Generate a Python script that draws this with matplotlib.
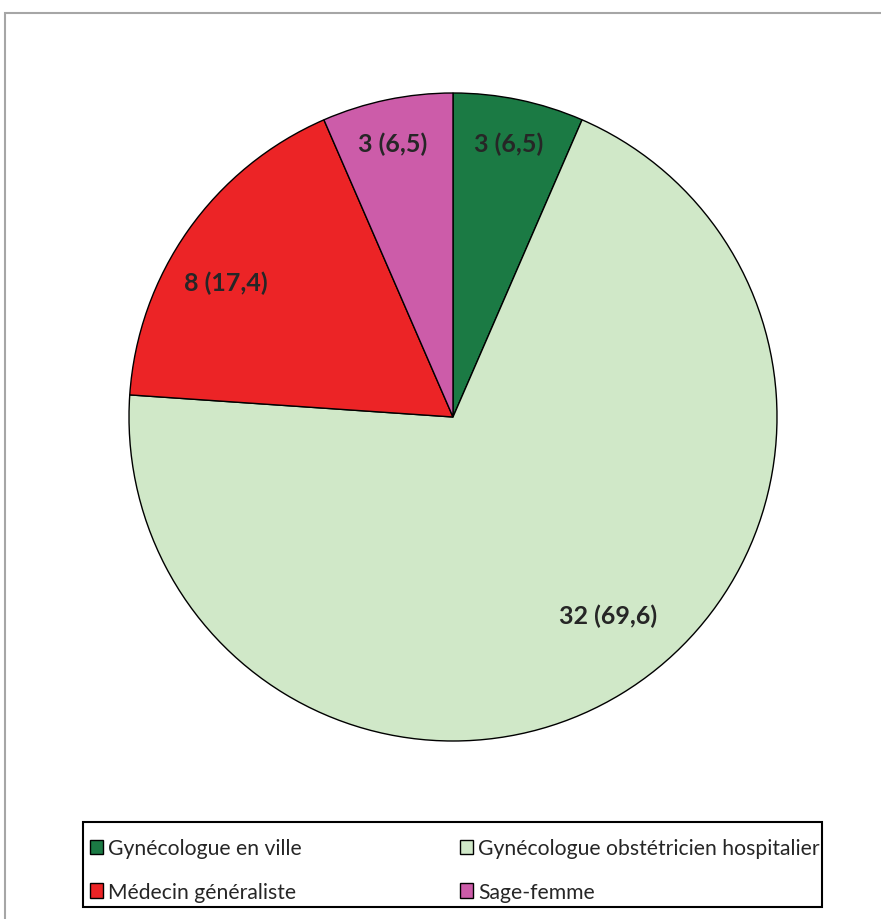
import numpy as np
import matplotlib
matplotlib.use("Agg")
import matplotlib.pyplot as plt
from matplotlib.patches import Rectangle

categories = ["Gynécologue en ville", "Gynécologue obstétricien hospitalier",
              "Médecin généraliste", "Sage-femme"]
counts = [3, 32, 8, 3]
percents = ["6,5", "69,6", "17,4", "6,5"]
colors = ["#1b7a44", "#d0e8c8", "#ec2426", "#cc5ca9"]

# label placement style: (radius fraction, angle offset in degrees)
label_style = [(0.862, 0.3), (0.776, 6.8), (0.814, 4.6), (0.866, 0.7)]

plt.rcParams['font.family'] = ['Lato', 'DejaVu Sans']

W, H = 881, 920
fig = plt.figure(figsize=(W / 100, H / 100), dpi=100)

# outer gray frame
fig.patches.append(Rectangle((5 / W, -0.05), 1.0, (H - 14) / H + 0.05,
                             transform=fig.transFigure, fill=False,
                             edgecolor="#a6a6a6", linewidth=1.5))

cx, cy, R = 453, 418, 324
ax = fig.add_axes([(cx - R) / W, (H - cy - R) / H, 2 * R / W, 2 * R / H])
wedges, _ = ax.pie(counts, colors=colors, startangle=90, counterclock=False,
                   radius=1.0,
                   wedgeprops=dict(edgecolor="black", linewidth=1.0))
ax.set_xlim(-1, 1)
ax.set_ylim(-1, 1)
ax.set_aspect("equal")
ax.axis("off")

for w, c, p, (rf, off) in zip(wedges, counts, percents, label_style):
    mid = np.deg2rad((w.theta1 + w.theta2) / 2 + off)
    ax.text(rf * np.cos(mid), rf * np.sin(mid), f"{c} ({p})",
            ha="center", va="center", fontsize=18, fontweight="bold",
            color="#262626")

# legend frame
lx0, lx1, ly0, ly1 = 83, 822, 823, 908
fig.patches.append(Rectangle((lx0 / W, (H - ly1) / H), (lx1 - lx0) / W, (ly1 - ly0) / H,
                             transform=fig.transFigure, fill=False,
                             edgecolor="black", linewidth=1.5, zorder=5))

handles = [Rectangle((0, 0), 1, 1, facecolor=col, edgecolor="black", linewidth=1.0)
           for col in colors]
ycen = (H - 871) / H
for cols, x in (([0, 2], 90), ([1, 3], 460)):
    lg = fig.legend([handles[i] for i in cols], [categories[i] for i in cols],
                    loc="center left", bbox_to_anchor=(x / W, ycen),
                    fontsize=15.2, frameon=False, borderpad=0, borderaxespad=0,
                    handlelength=0.62, handleheight=0.7, handletextpad=0.25,
                    labelspacing=1.1, labelcolor="#262626")

fig.savefig("out.png", dpi=100)
